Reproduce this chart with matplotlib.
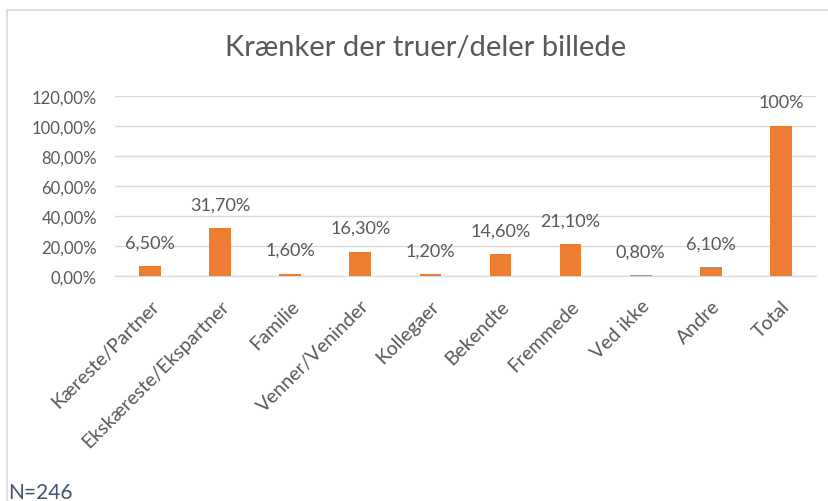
import matplotlib.pyplot as plt
from matplotlib.patches import Rectangle

categories = ["Kæreste/Partner", "Ekskæreste/Ekspartner", "Familie", "Venner/Veninder",
              "Kollegaer", "Bekendte", "Fremmede", "Ved ikke", "Andre", "Total"]
values = [6.5, 31.7, 1.6, 16.3, 1.2, 14.6, 21.1, 0.8, 6.1, 100]
value_labels = ["6,50%", "31,70%", "1,60%", "16,30%", "1,20%", "14,60%", "21,10%",
                "0,80%", "6,10%", "100%"]
yticks = [0, 20, 40, 60, 80, 100, 120]
ytick_labels = ["0,00%", "20,00%", "40,00%", "60,00%", "80,00%", "100,00%", "120,00%"]

plt.rcParams['font.family'] = ['Lato', 'DejaVu Sans']
grey = "#595959"

fig = plt.figure(figsize=(8.29, 5.02), dpi=100)
ax = fig.add_axes([0.1387, 0.4482, 0.8456, 0.3586])

x = range(len(categories))
ax.bar(x, values, width=0.31, color="#ed7d31", zorder=3)
for i, v in enumerate(values):
    ax.annotate(value_labels[i], (i, v), xytext=(0, 17), textcoords="offset points",
                ha="center", va="center", fontsize=13, color=grey)

ax.set_xlim(-0.5, len(categories) - 0.5)
ax.set_ylim(0, 120)
ax.set_yticks(yticks)
ax.set_yticklabels(ytick_labels, fontsize=12, color=grey)
ax.set_xticks(list(x))
ax.set_xticklabels(categories, rotation=45, ha="right", rotation_mode="anchor",
                   fontsize=14, color=grey)
ax.tick_params(length=0, axis="both")
ax.tick_params(axis="y", pad=13)
ax.tick_params(axis="x", pad=15)
ax.grid(axis="y", color="#d9d9d9", linewidth=1, zorder=0)
for s in ["top", "right", "left"]:
    ax.spines[s].set_visible(False)
ax.spines["bottom"].set_color("#d9d9d9")

fig.text(0.513, 0.905, "Krænker der truer/deler billede", ha="center", va="center",
         fontsize=21, color=grey)
fig.text(0.01, 0.018, "N=246", ha="left", va="center", fontsize=15, color="#44546a")

fig.patches.append(Rectangle((0.009, -0.5), 1.2, 1.478, transform=fig.transFigure,
                             fill=False, edgecolor="#d9d9d9", linewidth=1.2))

fig.savefig("out.png", dpi=100)
